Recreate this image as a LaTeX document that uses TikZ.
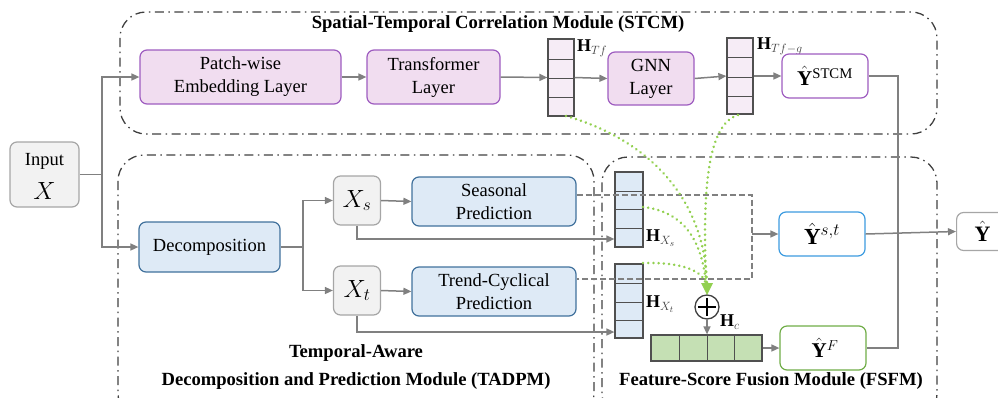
\documentclass[tikz,border=0pt]{standalone}
\usepackage{fontspec}
\setmainfont{Liberation Serif}
\usetikzlibrary{arrows.meta,calc}
\definecolor{purp}{HTML}{9E5CC0}
\definecolor{purpfill}{HTML}{F1DDF0}
\definecolor{vecpurp}{HTML}{F6ECF6}
\definecolor{bluedark}{HTML}{41719C}
\definecolor{bluefill}{HTML}{DEEAF6}
\definecolor{grayb}{HTML}{A6A6A6}
\definecolor{grayf}{HTML}{F2F2F2}
\definecolor{arrgray}{HTML}{808080}
\definecolor{dkgray}{HTML}{404040}
\definecolor{gdotc}{HTML}{92D050}
\definecolor{hcfill}{HTML}{C5E0B4}
\definecolor{ltblue}{HTML}{3C9BE0}
\definecolor{grn}{HTML}{70AD47}
\definecolor{vecb}{HTML}{505050}
\begin{document}
\begin{tikzpicture}[x=1pt,y=-1pt,
  box/.style={rounded corners=7, align=center, inner sep=2, font=\fontsize{18.5}{23}\selectfont},
  pbox/.style={box, draw=purp, fill=purpfill, line width=1.2},
  bbox/.style={box, draw=bluedark, fill=bluefill, line width=1.2},
  gbox/.style={box, draw=grayb, fill=grayf, line width=1.2},
  wbox/.style={box, fill=white, line width=1.2},
  vec/.style={draw=vecb, line width=1.2, inner sep=0},
  vline/.style={draw=vecb, line width=0.9},
  arr/.style={-{Triangle[length=8,width=7]}, draw=arrgray, color=arrgray, line width=1.5},
  ln/.style={draw=arrgray, line width=1.5},
  dln/.style={draw=arrgray, line width=1.5, dash pattern=on 6 off 3},
  module/.style={draw=dkgray, line width=1.3, dash pattern=on 9 off 4.5 on 1.5 off 4.5, rounded corners=26},
  gdot/.style={draw=gdotc, line width=2.8, line cap=round, dash pattern=on 0.01 off 5.2},
  ttl/.style={font=\fontsize{18.6}{22}\selectfont\bfseries, inner sep=0},
  lab/.style={font=\fontsize{18}{21}\selectfont, inner sep=0}]
\useasboundingbox (0,0) rectangle (998,397);
\clip (0,0) rectangle (998,397);

% modules
\draw[module] (120,12) rectangle (937,134);
\draw[module] (118,155) rectangle (594,420);
\draw[module] (602,157) rectangle (937,420);
\node[ttl] (tstcm) at (498,24) {Spatial-Temporal Correlation Module (STCM)};
\node[ttl] (tta1) at (356,353) {Temporal-Aware};
\node[ttl] (tta2) at (356,381) {Decomposition and Prediction Module (TADPM)};
\node[ttl] (tfs) at (771,381) {Feature-Score Fusion Module (FSFM)};

% input
\node[gbox, minimum width=69, minimum height=65] (in) at (44.5,174.5) {};
\node[lab, font=\fontsize{18.5}{21}\selectfont] (intxt) at (44.5,161) {Input};
\node[inner sep=0, font=\fontsize{26}{30}\selectfont] (inx) at (44.5,191) {$X$};

% STCM
\node[pbox, minimum width=201, minimum height=54] (pe) at (240.5,77) {Patch-wise\\Embedding Layer};
\node[pbox, minimum width=133, minimum height=54] (tr) at (433.5,77) {Transformer\\Layer};
\node[vec, fill=vecpurp, minimum width=26, minimum height=77] (htf) at (561,77.5) {};
\foreach \yy in {59,78,97} \draw[vline] (548,\yy) -- (574,\yy);
\node[lab, anchor=west] (lhtf) at (577,48) {$\mathbf{H}_{\color{dkgray}Tf}$};
\node[pbox, minimum width=86, minimum height=53] (gnn) at (651,78.5) {GNN\\Layer};
\node[vec, fill=vecpurp, minimum width=26, minimum height=76] (htg) at (740,76) {};
\foreach \yy in {57,77,96} \draw[vline] (727,\yy) -- (753,\yy);
\node[lab, anchor=west] (lhtg) at (757,46) {$\mathbf{H}_{\color{dkgray}Tf-g}$};
\node[wbox, draw=purp, minimum width=86, minimum height=44] (yst) at (825,76) {\fontsize{21}{23}\selectfont$\hat{\mathbf{Y}}^{\mathrm{STCM}}$};

% TADPM
\node[bbox, minimum width=141, minimum height=50] (dec) at (209.5,247) {Decomposition};
\node[gbox, minimum width=47, minimum height=49] (xs) at (357,200.5) {\fontsize{24}{26}\selectfont$X_s$};
\node[gbox, minimum width=47, minimum height=49] (xt) at (357,290.5) {\fontsize{24}{26}\selectfont$X_t$};
\node[bbox, minimum width=164, minimum height=49] (sea) at (494,201.5) {Seasonal\\Prediction};
\node[bbox, minimum width=164, minimum height=49] (tre) at (494,291.5) {Trend-Cyclical\\Prediction};

% FSFM
\node[vec, fill=bluefill, minimum width=28, minimum height=75] (hxs) at (629,209.5) {};
\foreach \yy in {191,209,228} \draw[vline] (615,\yy) -- (643,\yy);
\node[lab, anchor=west] (lhxs) at (646,238) {$\mathbf{H}_{\color{dkgray}X_s}$};
\node[vec, fill=bluefill, minimum width=28, minimum height=74] (hxt) at (629,301) {};
\foreach \yy in {283,302,320} \draw[vline] (615,\yy) -- (643,\yy);
\node[lab, anchor=west] (lhxt) at (646,304) {$\mathbf{H}_{\color{dkgray}X_t}$};
\node[circle, draw=dkgray, line width=1.3, minimum size=24, inner sep=0] (pl) at (707,307) {};
\draw[line width=2.6] ($(pl.north)+(0,3.5)$) -- ($(pl.south)+(0,-3.5)$);
\draw[line width=2.6] ($(pl.west)+(3.5,0)$) -- ($(pl.east)+(-3.5,0)$);
\node[vec, fill=hcfill, minimum width=111, minimum height=26] (hc) at (706.5,348) {};
\foreach \xx in {679,707,734} \draw[vline] (\xx,335) -- (\xx,361);
\node[lab, anchor=west] (lhc) at (720,322) {$\mathbf{H}_{\color{dkgray}c}$};
\node[wbox, draw=ltblue, minimum width=86, minimum height=44] (yst2) at (822,234) {\fontsize{23}{25}\selectfont$\hat{\mathbf{Y}}^{s,t}$};
\node[wbox, draw=grn, minimum width=86, minimum height=44] (yf) at (823,348) {\hspace{4pt}\fontsize{21}{23}\selectfont$\hat{\mathbf{Y}}^{F}$};
\node[gbox, fill=white, minimum width=60, minimum height=38, anchor=west] (yout) at (956,231.5) {\fontsize{22}{24}\selectfont$\hat{\mathbf{Y}}$\hspace{8pt}};

% connectors
\draw[ln] (in.east) -- (102,174.5);
\draw[arr] (102,174.5) |- (pe.west);
\draw[arr] (102,174.5) |- (dec.west);
\draw[arr] (pe.east) -- (tr.west);
\draw[arr] (tr.east) -- (htf.west);
\draw[arr] (htf.east) -- (gnn.west);
\draw[arr] (gnn.east) -- (htg.west);
\draw[arr] (htg.east) -- (yst.west);
\draw[ln] (dec.east) -- (303,247);
\draw[arr] (303,247) |- (xs.west);
\draw[arr] (303,247) |- (xt.west);
\draw[arr] (xs.east) -- (sea.west);
\draw[arr] (xt.east) -- (tre.west);
\draw[arr] (xs.south) |- (hxs.west |- 0,239);
\draw[arr] (xt.south) |- (hxt.west |- 0,332);
\draw[dln] (sea.east |- 0,195) -- (752,195) -- (752,279) -- (tre.east |- 0,279);
\draw[arr] (752,234) -- (yst2.west);
\draw[arr] (pl.south) -- (hc.north -| pl.south);
\draw[arr] (hc.east) -- (yf.west);
\draw[ln] (yst.east) -- (898,76) -- (898,348) -- (yf.east);
\draw[arr] (yst2.east) -- (yout.west);

% green dotted
\draw[gdot] (566,116) .. controls (650,140) and (705,200) .. (707,284);
\draw[gdot] (738,115) .. controls (705,125) and (703,200) .. (706,284);
\draw[gdot] (643,207) .. controls (690,212) and (703,250) .. (706,284);
\draw[gdot] (643,263) .. controls (685,262) and (703,272) .. (706,284);
\fill[gdotc] (707,295) -- (701,283) -- (713,283) -- cycle;
\end{tikzpicture}
\end{document}
